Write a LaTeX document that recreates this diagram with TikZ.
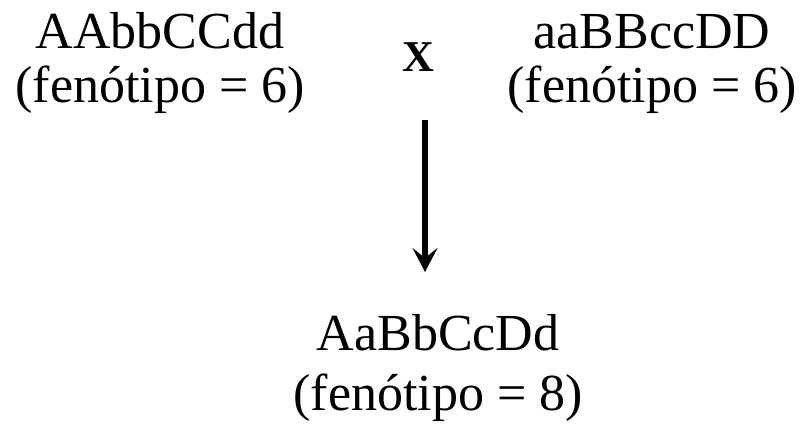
\documentclass[tikz,border=0pt]{standalone}
\usepackage{fontspec}
\setmainfont{Liberation Serif}
\usetikzlibrary{arrows.meta,positioning}

\begin{document}
\begin{tikzpicture}[
    x=1pt, y=1pt,
    >=Stealth,
    geno/.style={align=center, inner sep=0pt,
                 font=\fontsize{52}{54}\selectfont},
    arrow/.style={-{Stealth[length=24pt, width=25pt, inset=10pt]},
                  line width=5.5pt},
  ]
  \useasboundingbox (0,0) rectangle (808,-425);

  \node[geno, anchor=north] (mother) at (160,-12)
    {AAbbCCdd\\(fenótipo = 6)};

  \node[geno, anchor=north] (father) at (652,-14)
    {aaBBccDD\\(fenótipo = 6)};

  \node[font=\fontsize{44}{44}\selectfont\bfseries, inner sep=0pt] (cross) at (418,-57) {X};

  \node[geno, anchor=north, font=\fontsize{52}{60}\selectfont] (child) at (438,-314)
    {AaBbCcDd\\(fenótipo = 8)};

  \draw[arrow, shorten <=48pt, shorten >=42pt]
    ([xshift=7pt]cross.south) -- ([xshift=7pt]cross.south |- child.north);

\end{tikzpicture}
\end{document}
